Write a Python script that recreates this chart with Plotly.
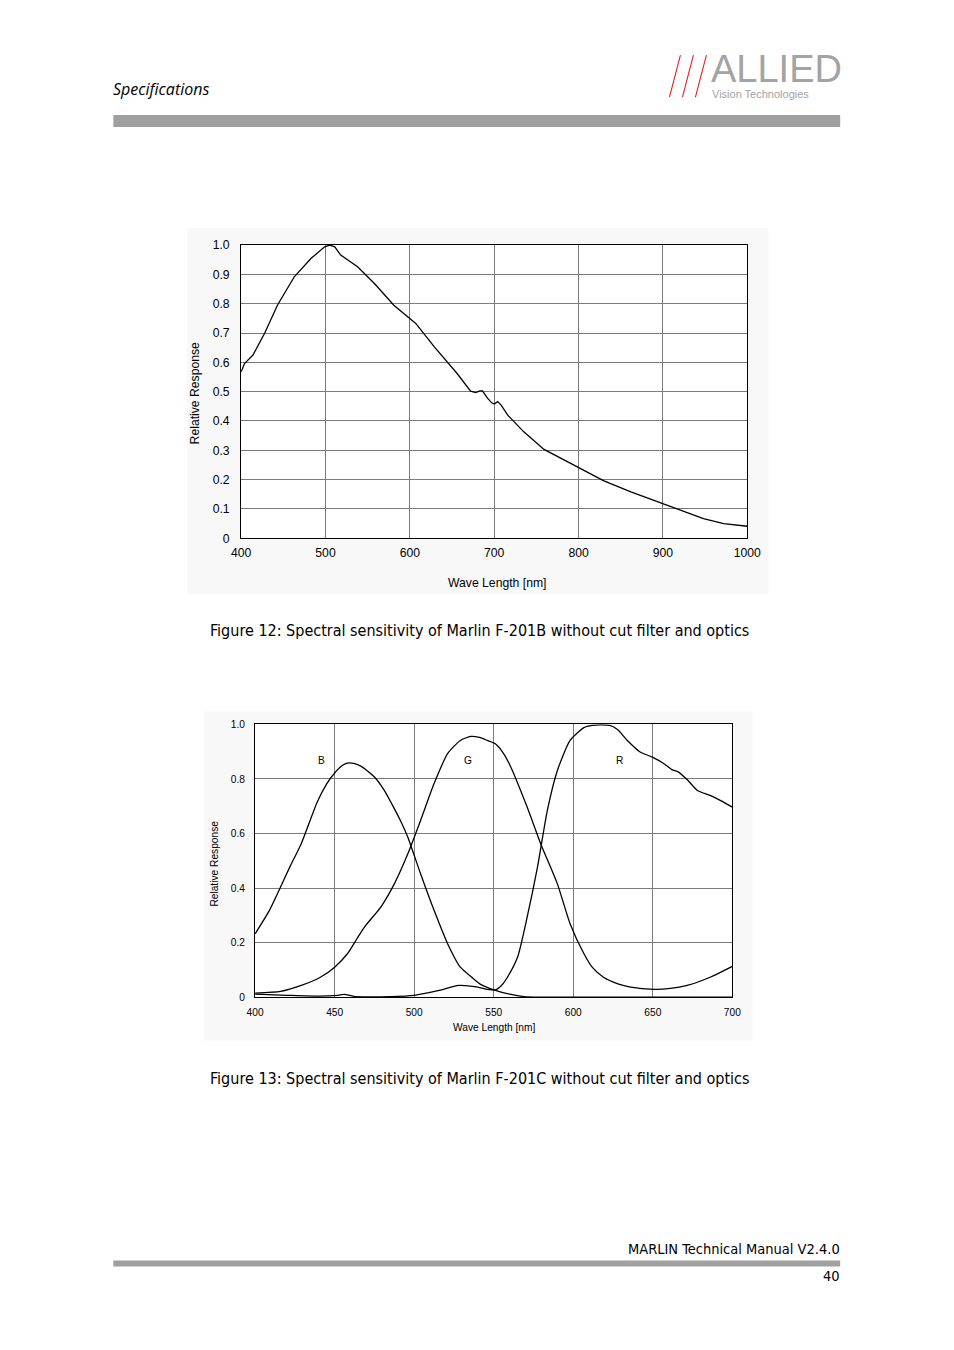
import plotly.graph_objects as go

# ---------------- data ----------------
# Figure 12: monochrome (F-201B)
mono_nm = [400, 404, 414, 428, 443, 463, 483, 499, 505, 511, 518, 538, 558, 581, 607, 629,
           656, 672, 678, 683, 686, 692, 697, 700, 704, 708, 716, 722, 735, 759, 798, 830,
           862, 899, 917, 948, 972, 1000]
mono_resp = [0.568, 0.596, 0.625, 0.700, 0.795, 0.892, 0.955, 0.994, 1.000, 0.994, 0.966, 0.926,
             0.869, 0.795, 0.733, 0.653, 0.562, 0.502, 0.497, 0.503, 0.503, 0.478, 0.462, 0.458,
             0.466, 0.455, 0.420, 0.403, 0.363, 0.303, 0.243, 0.196, 0.158, 0.118, 0.099, 0.067,
             0.050, 0.041]

# Figure 13: colour (F-201C)
blue_nm = [400, 409, 415, 422, 429, 439, 445, 450, 455, 458, 462, 467, 475, 481, 487, 492, 496,
           504, 512.5, 521, 529, 536, 542, 550, 560, 569, 580, 620, 660, 700]
blue_resp = [0.233, 0.319, 0.392, 0.480, 0.563, 0.715, 0.782, 0.822, 0.850, 0.858, 0.857, 0.845,
             0.807, 0.760, 0.697, 0.640, 0.587, 0.453, 0.319, 0.197, 0.111, 0.075, 0.047, 0.028,
             0.012, 0.003, 0.001, 0.001, 0.001, 0.001]

green_nm = [400, 416, 429, 441, 450, 458, 464, 468.6, 479, 487.5, 496, 504, 512.5, 521, 529,
            535.6, 541, 546, 551, 556, 560.7, 571, 579.5, 590, 598, 606.7, 612, 619, 628, 636,
            650.7, 661, 671.6, 686, 700]
green_resp = [0.016, 0.022, 0.044, 0.074, 0.111, 0.160, 0.215, 0.257, 0.331, 0.416, 0.526, 0.648,
              0.783, 0.893, 0.941, 0.956, 0.952, 0.941, 0.929, 0.895, 0.844, 0.697, 0.563, 0.416,
              0.270, 0.160, 0.110, 0.074, 0.050, 0.038, 0.030, 0.033, 0.044, 0.074, 0.114]

red_nm = [400, 420, 440, 452, 456, 462, 470, 485, 500, 515, 528, 540, 546, 551, 555, 558.6, 565,
          571, 577.5, 583.7, 590, 598, 606.7, 612, 617, 623, 628, 634, 642, 649.7, 657, 662, 666,
          672, 678, 686, 693, 700]
red_resp = [0.012, 0.008, 0.005, 0.008, 0.011, 0.004, 0.002, 0.003, 0.008, 0.025, 0.044, 0.038,
            0.030, 0.028, 0.045, 0.074, 0.148, 0.294, 0.477, 0.685, 0.831, 0.941, 0.988, 0.996,
            0.998, 0.996, 0.980, 0.941, 0.899, 0.880, 0.856, 0.834, 0.826, 0.795, 0.758, 0.740,
            0.720, 0.697]

curve_labels = ["B", "G", "R"]
curve_label_x = [442, 534, 629]
curve_label_y = [0.868, 0.868, 0.868]

x1_ticks = [400, 500, 600, 700, 800, 900, 1000]
y1_ticks = [0, 0.1, 0.2, 0.3, 0.4, 0.5, 0.6, 0.7, 0.8, 0.9, 1.0]
y1_text = ["0", "0.1", "0.2", "0.3", "0.4", "0.5", "0.6", "0.7", "0.8", "0.9", "1.0"]
x2_ticks = [400, 450, 500, 550, 600, 650, 700]
y2_ticks = [0, 0.2, 0.4, 0.6, 0.8, 1.0]
y2_text = ["0", "0.2", "0.4", "0.6", "0.8", "1.0"]

# ---------------- layout helpers ----------------
# Mapping from intended page pixels to figure pixels, measured from the
# renderer (body margin plus the capture's slight rescale).
SX, BX = 0.976, 8.5
SY, BY = 0.989, 7.0
W, H = 940, 1330
def px(x):
    return ((x - BX) / SX) / W
def py(y):
    return 1 - ((y - BY) / SY) / H

ARIAL = "Liberation Sans, Arial, sans-serif"
DIN = "Liberation Sans Narrow, DejaVu Sans Condensed, Liberation Sans, sans-serif"
GRID = "#7a7a7a"

fig = go.Figure()
fig.add_trace(go.Scatter(x=mono_nm, y=mono_resp, mode="lines", line=dict(color="black", width=1.3),
                         xaxis="x", yaxis="y", showlegend=False, hoverinfo="skip"))
for xs, ys in [(blue_nm, blue_resp), (green_nm, green_resp), (red_nm, red_resp)]:
    fig.add_trace(go.Scatter(x=xs, y=ys, mode="lines", line=dict(color="black", width=1.3, shape="spline", smoothing=0.6),
                             xaxis="x2", yaxis="y2", showlegend=False, hoverinfo="skip"))

def xaxis(dom, rng, ticks, size, anchor, tl):
    return dict(domain=dom, range=rng, tickmode="array", tickvals=ticks, ticktext=[str(t) for t in ticks],
                showgrid=True, gridcolor=GRID, gridwidth=1, zeroline=False,
                showline=True, linecolor="black", linewidth=1.2, mirror=True,
                ticks="outside", ticklen=tl, tickcolor="rgba(0,0,0,0)",
                tickfont=dict(family=ARIAL, size=size, color="black"), anchor=anchor, fixedrange=True)

def yaxis(dom, ticks, text, size, anchor, tl):
    return dict(domain=dom, range=[0, 1], tickmode="array", tickvals=ticks, ticktext=text,
                showgrid=True, gridcolor=GRID, gridwidth=1, zeroline=False,
                showline=True, linecolor="black", linewidth=1.2, mirror=True,
                ticks="outside", ticklen=tl, tickcolor="rgba(0,0,0,0)",
                tickfont=dict(family=ARIAL, size=size, color="black"), anchor=anchor, fixedrange=True)

# plot-area page-pixel boxes
c1 = (240, 245, 747, 538)   # left, top, right, bottom
c2 = (254, 724, 732, 997)

fig.update_layout(
    width=W, height=H, margin=dict(l=0, r=0, t=0, b=0), autosize=False,
    paper_bgcolor="white", plot_bgcolor="white",
    xaxis=xaxis([px(c1[0]), px(c1[2])], [400, 1000], x1_ticks, 12.2, "y", 3),
    yaxis=yaxis([py(c1[3]), py(c1[1])], y1_ticks, y1_text, 12.2, "x", 8),
    xaxis2=xaxis([px(c2[0]), px(c2[2])], [400, 700], x2_ticks, 10.2, "y2", 5),
    yaxis2=yaxis([py(c2[3]), py(c2[1])], y2_ticks, y2_text, 10.2, "x2", 7),
)

shapes = []
# chart image backgrounds
shapes.append(dict(type="rect", xref="paper", yref="paper", x0=px(186), x1=px(768), y0=py(594), y1=py(228),
                   fillcolor="#f8f8f8", line=dict(width=0), layer="below"))
shapes.append(dict(type="rect", xref="paper", yref="paper", x0=px(203), x1=px(752), y0=py(1040), y1=py(711),
                   fillcolor="#f8f8f8", line=dict(width=0), layer="below"))
shapes.append(dict(type="rect", xref="paper", yref="paper", x0=px(c1[0]), x1=px(c1[2]), y0=py(c1[3]), y1=py(c1[1]),
                   fillcolor="white", line=dict(width=0), layer="below"))
shapes.append(dict(type="rect", xref="paper", yref="paper", x0=px(c2[0]), x1=px(c2[2]), y0=py(c2[3]), y1=py(c2[1]),
                   fillcolor="white", line=dict(width=0), layer="below"))
# header / footer bars
shapes.append(dict(type="rect", xref="paper", yref="paper", x0=px(112), x1=px(840), y0=py(127), y1=py(115),
                   fillcolor="#a0a0a0", line=dict(width=0)))
shapes.append(dict(type="rect", xref="paper", yref="paper", x0=px(112), x1=px(840), y0=py(1266), y1=py(1260),
                   fillcolor="#a0a0a0", line=dict(width=0)))
# logo slashes
for bx in [669, 682, 695]:
    shapes.append(dict(type="line", xref="paper", yref="paper", x0=px(bx), y0=py(97), x1=px(bx + 11), y1=py(55),
                       line=dict(color="#e02020", width=1.1)))
fig.update_layout(shapes=shapes)

ann = []
def text(x, y, s, size, family=ARIAL, xanchor="center", color="black", **kw):
    ann.append(dict(x=px(x), y=py(y), xref="paper", yref="paper", text=s, showarrow=False,
                    xanchor=xanchor, yanchor="middle", font=dict(family=family, size=size, color=color), **kw))

# header
text(110, 89, "<i>Specifications</i>", 16, family="Open Sans, Lato, sans-serif", xanchor="left")
text(709, 69, "ALLIED", 38, family=ARIAL, xanchor="left", color="#a3a3a3")
text(710, 94, "Vision Technologies", 11, family=ARIAL, xanchor="left", color="#a3a3a3")
# axis titles
text(194, 393, "Relative Response", 12.2, textangle=-90)
text(496, 583, "Wave Length [nm]", 12.2)
text(213, 863, "Relative Response", 10.2, textangle=-90)
text(493, 1027, "Wave Length [nm]", 10.2)
# captions
text(479, 630, "Figure 12: Spectral sensitivity of Marlin F-201B without cut filter and optics", 16, family=DIN)
text(479, 1078, "Figure 13: Spectral sensitivity of Marlin F-201C without cut filter and optics", 16, family=DIN)
# footer
text(842, 1248, "MARLIN Technical Manual V2.4.0", 14.5, family=DIN, xanchor="right")
text(842, 1275, "40", 14.5, family=DIN, xanchor="right")
fig.update_layout(annotations=ann)

# curve labels (data coordinates)
for lab, lx, ly in zip(curve_labels, curve_label_x, curve_label_y):
    fig.add_annotation(x=lx, y=ly, xref="x2", yref="y2", text=lab, showarrow=False,
                       font=dict(family=ARIAL, size=10.2, color="black"))

fig.write_html("out.html", config={"displayModeBar": False})
